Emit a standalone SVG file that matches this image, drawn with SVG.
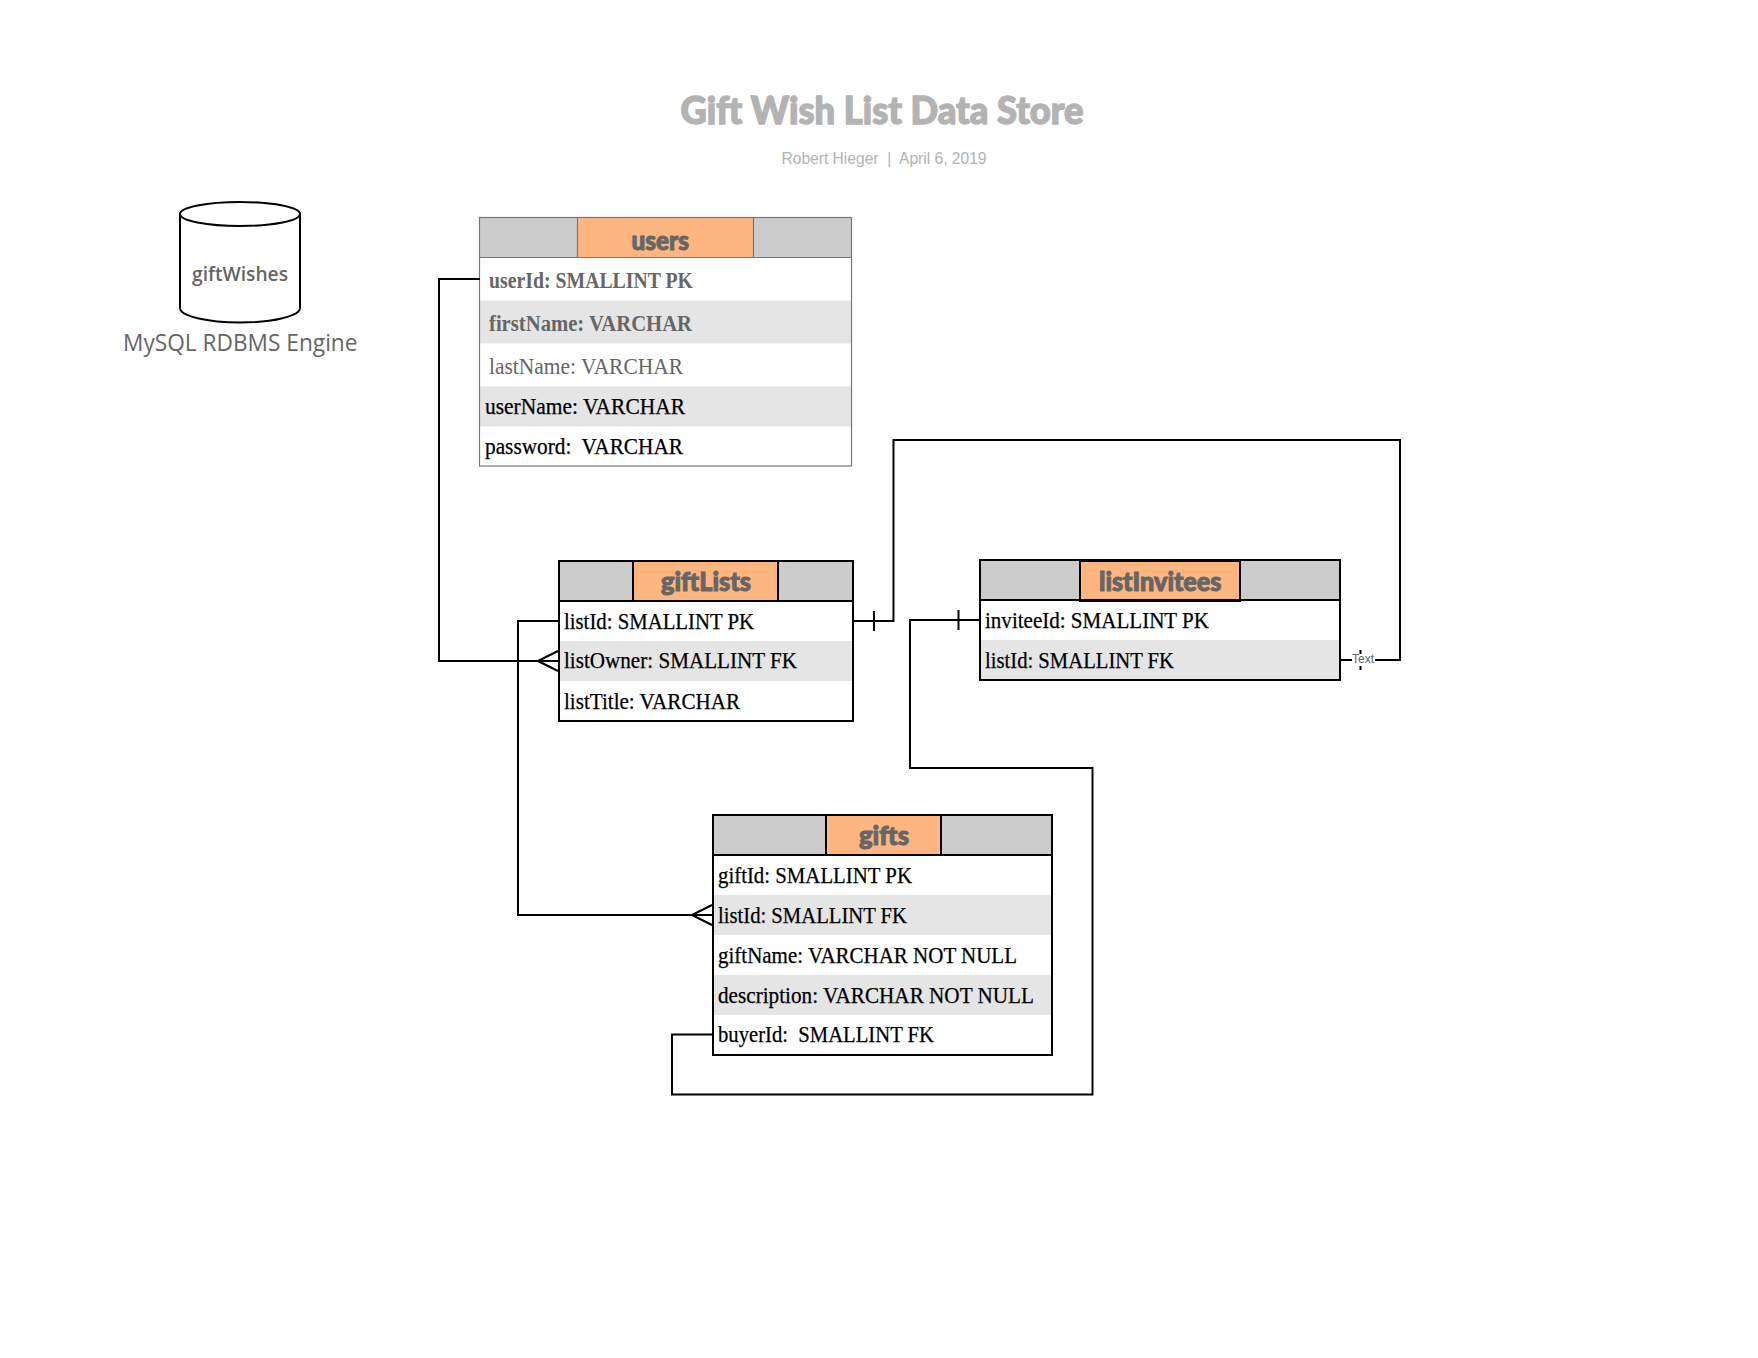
<svg xmlns="http://www.w3.org/2000/svg" width="1758" height="1358" viewBox="0 0 1758 1358">
<style>
.hd{fill:#ccc}
.or{fill:#ffb580}
.alt{fill:#e5e5e5}
.box{fill:none;stroke:#000;stroke-width:2}
.boxg{fill:none;stroke:#777;stroke-width:1.2}
.div{fill:none;stroke:#000;stroke-width:2}
.divg{fill:none;stroke:#777;stroke-width:1.2}
.c{fill:none;stroke:#000;stroke-width:2}
text{font-family:"Liberation Serif",serif;white-space:pre}
.r{font-size:23px;fill:#000;stroke:#000;stroke-width:.25}
.gb{font-weight:bold;stroke:none;fill:#666}
.gr{stroke:none;fill:#666}
.h{font-family:"Lato","Open Sans",sans-serif;font-weight:900;font-size:26px;fill:#666;stroke:#666;stroke-width:1}
</style>
<g id="title"><text x="680.5" y="124" textLength="403" lengthAdjust="spacingAndGlyphs" style="font-family:Lato,sans-serif;font-weight:900;font-size:37px;fill:#b3b3b3;stroke:#b3b3b3;stroke-width:1.4">Gift Wish List Data Store</text></g>
<g id="subtitle"><text x="781.500" y="164" textLength="205" lengthAdjust="spacingAndGlyphs" style="font-family:'Liberation Sans',sans-serif;font-size:16px;fill:#b3b3b3">Robert Hieger  |  April 6, 2019</text></g>
<g id="db">
<path d="M180 215V308C180 316 207 322.500 240 322.500S300 316 300 308V215" fill="#fff" stroke="#000" stroke-width="2"/>
<ellipse cx="240" cy="214" rx="60" ry="12" fill="#fff" stroke="#000" stroke-width="2"/>
<text x="192" y="281" textLength="96" lengthAdjust="spacingAndGlyphs" style="font-family:'Open Sans',sans-serif;font-weight:600;font-size:20px;fill:#666">giftWishes</text>
<text x="123" y="351" textLength="234.500" lengthAdjust="spacingAndGlyphs" style="font-family:'Open Sans',sans-serif;font-size:24px;fill:#666">MySQL RDBMS Engine</text>
</g>
<g id="users">
<rect x="480" y="217.500" width="371.500" height="40" class="hd"/>
<rect x="577.500" y="217.500" width="176" height="40" class="or"/>
<rect x="480" y="300.500" width="371.500" height="43" class="alt"/>
<rect x="480" y="386.500" width="371.500" height="40" class="alt"/>
<rect x="479.500" y="217.500" width="372" height="248.500" class="boxg"/>
<path d="M480 257.500H851.500M577.500 217.500V257.500M753.500 217.500V257.500" class="divg"/>
<text x="631.500" y="250" textLength="57.500" lengthAdjust="spacingAndGlyphs" class="h">users</text>
<text x="489" y="288" textLength="204" lengthAdjust="spacingAndGlyphs" class="r gb">userId: SMALLINT PK</text>
<text x="489" y="331" textLength="203" lengthAdjust="spacingAndGlyphs" class="r gb">firstName: VARCHAR</text>
<text x="489" y="374" textLength="194" lengthAdjust="spacingAndGlyphs" class="r gr">lastName: VARCHAR</text>
<text x="485" y="414" textLength="200" lengthAdjust="spacingAndGlyphs" class="r">userName: VARCHAR</text>
<text x="485" y="454" textLength="198" lengthAdjust="spacingAndGlyphs" class="r">password:  VARCHAR</text>
</g>
<g id="giftLists">
<rect x="559" y="561" width="294" height="40" class="hd"/>
<rect x="633" y="561" width="145" height="40" class="or"/>
<rect x="559" y="641" width="294" height="40" class="alt"/>
<rect x="559" y="561" width="294" height="160" class="box"/>
<path d="M559 601H853M633 561V601M778 561V601" class="div"/>
<text x="661" y="591" textLength="90" lengthAdjust="spacingAndGlyphs" class="h">giftLists</text>
<text x="564" y="629" textLength="190" lengthAdjust="spacingAndGlyphs" class="r">listId: SMALLINT PK</text>
<text x="564" y="668" textLength="233" lengthAdjust="spacingAndGlyphs" class="r">listOwner: SMALLINT FK</text>
<text x="564" y="709" textLength="176" lengthAdjust="spacingAndGlyphs" class="r">listTitle: VARCHAR</text>
</g>
<g id="listInvitees">
<rect x="980" y="560" width="360" height="40" class="hd"/>
<rect x="1080" y="561" width="160" height="40" class="or"/>
<rect x="980" y="640" width="360" height="40" class="alt"/>
<rect x="980" y="560" width="360" height="120" class="box"/>
<path d="M980 600H1340" class="div"/>
<rect x="1080" y="561" width="160" height="40" class="div"/>
<text x="1099" y="591" textLength="122.500" lengthAdjust="spacingAndGlyphs" class="h">listInvitees</text>
<text x="985" y="628" textLength="224" lengthAdjust="spacingAndGlyphs" class="r">inviteeId: SMALLINT PK</text>
<text x="985" y="668" textLength="189" lengthAdjust="spacingAndGlyphs" class="r">listId: SMALLINT FK</text>
</g>
<g id="gifts">
<rect x="713" y="815" width="339" height="40" class="hd"/>
<rect x="826" y="815" width="115" height="40" class="or"/>
<rect x="713" y="895" width="339" height="40" class="alt"/>
<rect x="713" y="975" width="339" height="40" class="alt"/>
<rect x="713" y="815" width="339" height="240" class="box"/>
<path d="M713 855H1052M826 815V855M941 815V855" class="div"/>
<text x="859" y="844.500" textLength="50" lengthAdjust="spacingAndGlyphs" class="h">gifts</text>
<text x="718" y="883" textLength="194" lengthAdjust="spacingAndGlyphs" class="r">giftId: SMALLINT PK</text>
<text x="718" y="923" textLength="189" lengthAdjust="spacingAndGlyphs" class="r">listId: SMALLINT FK</text>
<text x="718" y="963" textLength="299" lengthAdjust="spacingAndGlyphs" class="r">giftName: VARCHAR NOT NULL</text>
<text x="718" y="1003" textLength="316" lengthAdjust="spacingAndGlyphs" class="r">description: VARCHAR NOT NULL</text>
<text x="718" y="1042" textLength="216" lengthAdjust="spacingAndGlyphs" class="r">buyerId:  SMALLINT FK</text>
</g>
<g id="connectors">
<path d="M480 279H439V661H558M538 661L558 651M538 661L558 671" class="c"/>
<path d="M558 621H518V915H712M692 915L712 905M692 915L712 925" class="c"/>
<path d="M853 621H893.500V440H1400V660H1375M874 611V631" class="c"/>
<path d="M1352 660H1340" class="c"/>
<path d="M980 620H910V768H1092.500V1094.500H672V1034.500H712M958.500 610V630" class="c"/>
<path d="M1360.500 650V654M1360.500 666V670" class="c"/>
<text x="1363" y="663" text-anchor="middle" style="font-family:'Liberation Sans',sans-serif;font-size:12px;fill:#666">Text</text>
</g>
</svg>
